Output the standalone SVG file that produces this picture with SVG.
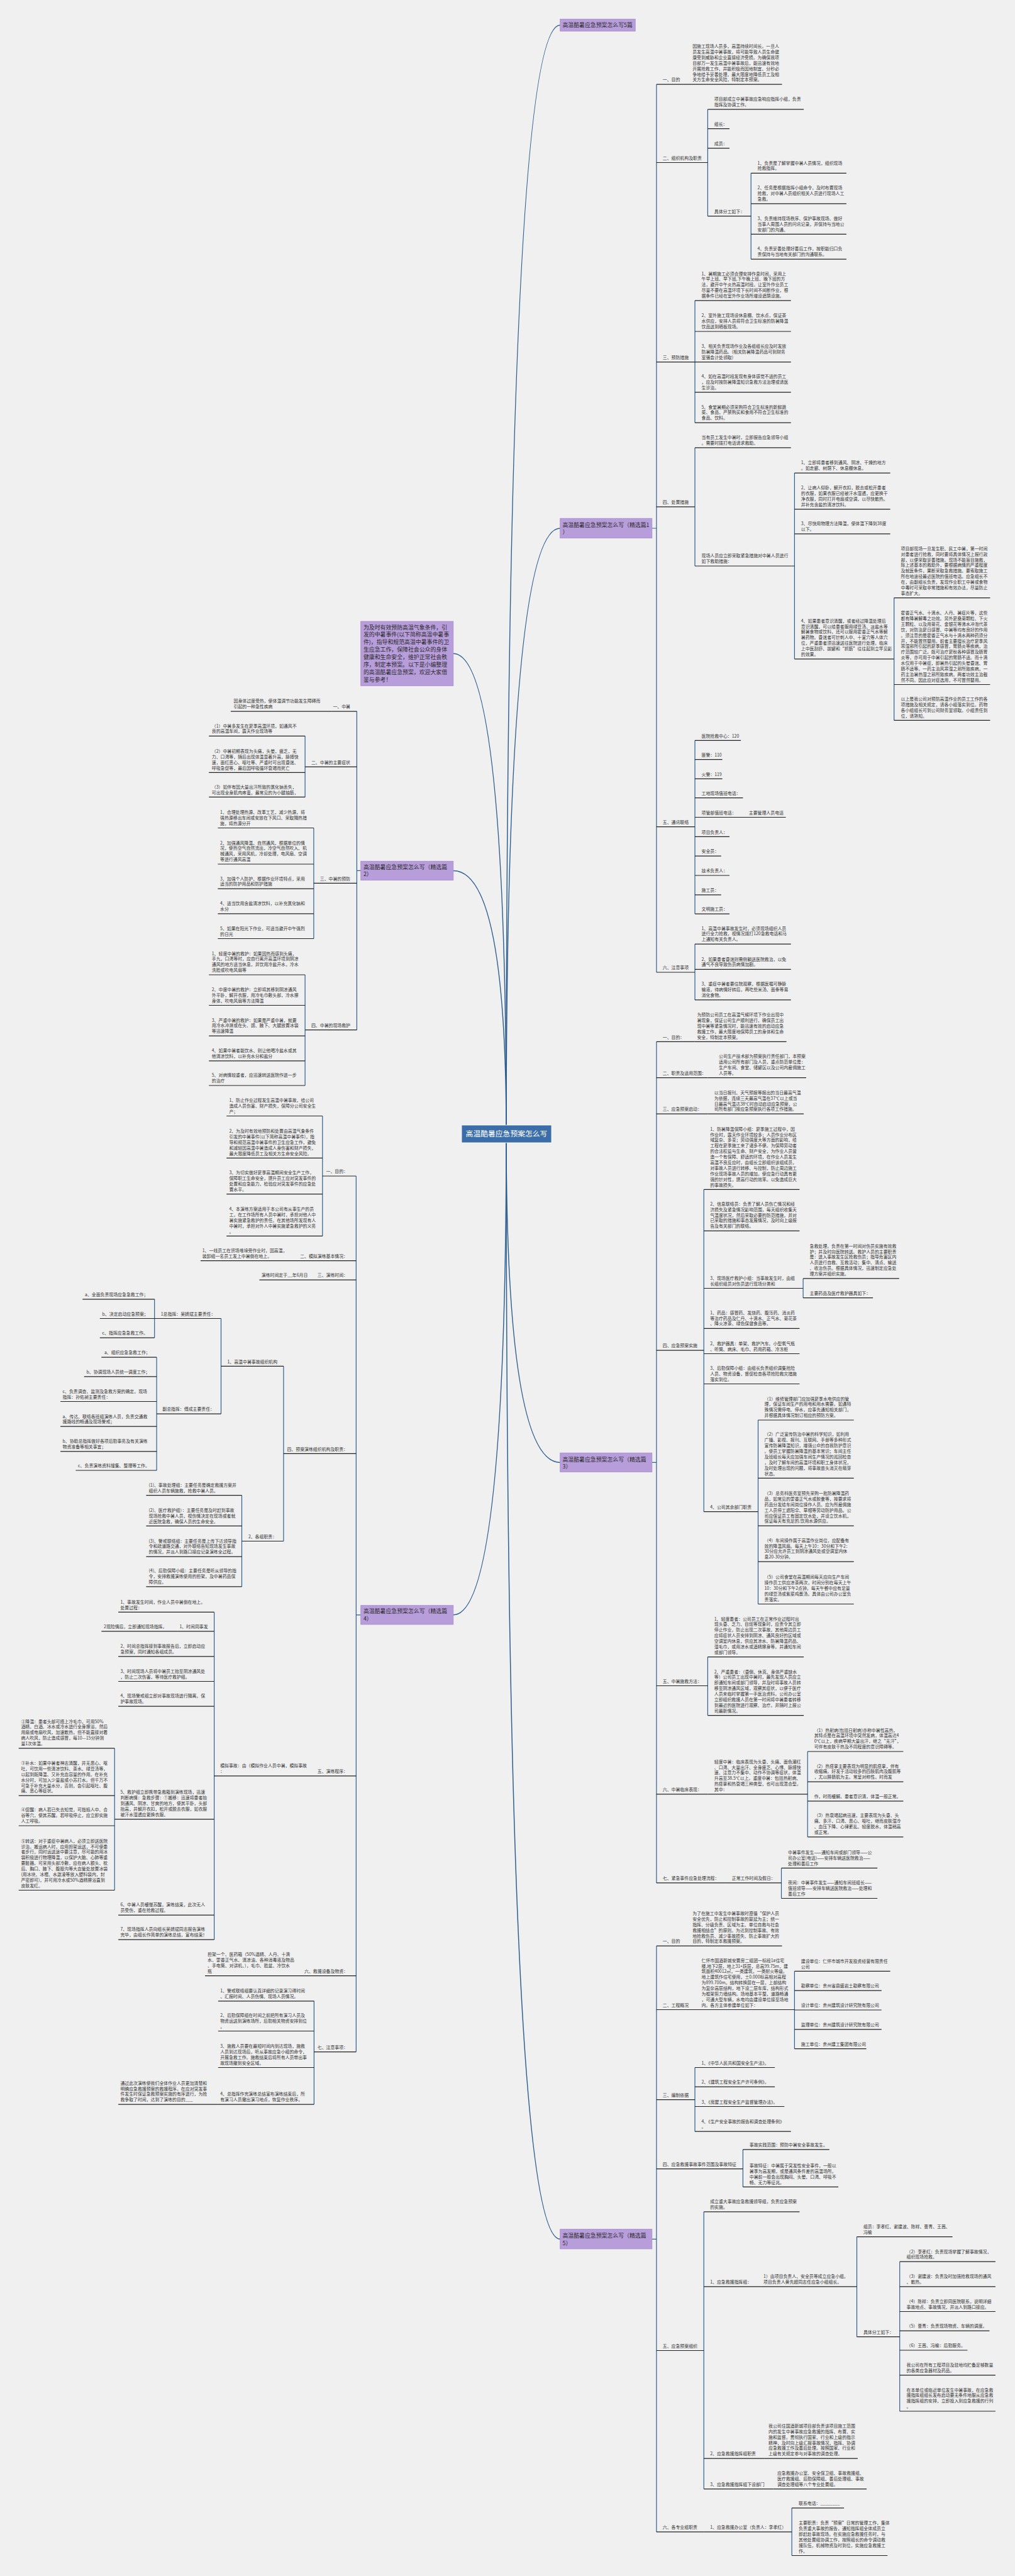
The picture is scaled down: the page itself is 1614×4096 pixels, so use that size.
<svg xmlns="http://www.w3.org/2000/svg" width="1614" height="4096" viewBox="0 0 1614 4096">
<style>
.t{font-family:"Noto Sans CJK SC","Noto Sans",sans-serif;font-size:6.9px;fill:#333}
.e{text-anchor:end}
.u{stroke:#222;stroke-width:1.2;fill:none}
.c{stroke:#2f5f8f;stroke-width:1.2;fill:none}
.cv{stroke:#2f5f8f;stroke-width:1.5;fill:none}
.p{fill:#b89ddb;stroke:#a68bd1;stroke-width:0.8}
.pt{font-family:"Noto Sans CJK SC","Noto Sans",sans-serif;font-size:8.9px;fill:#2a2a2a}
.ct{font-family:"Noto Sans CJK SC","Noto Sans",sans-serif;font-size:11.8px;fill:#fff;text-anchor:middle}
</style>
<rect width="1614" height="4096" fill="#f0f0f0"/>
<g id="connectors">
<path class="cv" d="M805 1803Q805 39.9 890.7 39.9"/>
<path class="cv" d="M805 1803Q805 840 890.7 840"/>
<path class="cv" d="M805 1803Q805 1039.2 720.8 1039.2"/>
<path class="cv" d="M805 1803Q805 1384.4 720.8 1384.4"/>
<path class="cv" d="M805 1803Q805 2325.4 890.7 2325.4"/>
<path class="cv" d="M805 1803Q805 2567.8 720.8 2567.8"/>
<path class="cv" d="M805 1803Q805 3560.3 890.7 3560.3"/>
<path class="c" d="M1036.8 840H1043.9M1043.9 134.2V1546"/>
<path class="c" d="M1036.8 2325.4H1043.9M1043.9 1656.3V2993.9"/>
<path class="c" d="M1036.8 3560.3H1043.9M1043.9 3094.2V4025.9"/>
<path class="c" d="M573.7 1384.4H567.4M567.4 1131.1V1637.7"/>
<path class="c" d="M573.7 2567.8H566.3M566.3 1870V3262.6"/>
<path class="c" d="M1125.4 173.9V343.7M1194.2 275.3V412.1M1105 477.9V672.2M1105 711.9V900M1263.4 752.1V1047.8M1421.7 950.6V1145.4M1105 1177.3V1453.1M1105 1501.1V1589.9"/>
<path class="c" d="M1119.2 1891.3V2403.7M1277.1 2032.9V2063.7M1205.5 2258V2550.5M1125.4 2634.6V2727.6M1284.2 2785V2920.8M1242.5 2970.4V3018.5"/>
<path class="c" d="M1263.4 3134.4V3257.7M1105 3287.5V3389.2M1181.4 3417.8V3477.3M1119.2 3516.9V3957.6M1362.5 3556.6V3715.6M1430.7 3596.2V3834M1259.1 3987.8V4063.5"/>
<path class="c" d="M485.1 1170.3V1267.4M498.9 1316.5V1492.5M485.1 1550V1726"/>
<path class="c" d="M512.8 1774.5V1965.4M450.9 2172.3V2450.5M351.5 2096.5V2248.1M245.7 2065.8V2127.1M249.1 2158.2V2338M384.5 2377.7V2522.8M340.6 2563.4V3084.1M182.2 2779.9V3005.5M499.4 3181.8V3346.1"/>
</g>

<g id="center"><rect x="734" y="1789" width="143" height="28" fill="#3b6ea8" stroke="#fff" stroke-width="0.8"/><text class="ct" x="805.5" y="1807.2">高温酷暑应急预案怎么写</text></g>

<g id="top"><rect class="p" x="890.7" y="30.3" width="119.5" height="19.3"/><text class="pt" x="894.5" y="43">高温酷暑应急预案怎么写5篇</text></g>
<g id="intro"><rect class="p" x="573.7" y="988" width="147.1" height="102.4"/><text class="pt" x="577.9" y="1000.6">为及时有效预防高温气象条件，引<tspan x="577.9" dy="11.86">发的中暑事件(以下简称高温中暑事</tspan><tspan x="577.9" dy="11.86">件)，指导和规范高温中暑事件的卫</tspan><tspan x="577.9" dy="11.86">生应急工作，保障社会公众的身体</tspan><tspan x="577.9" dy="11.86">健康和生命安全，维护正常社会秩</tspan><tspan x="577.9" dy="11.86">序，制定本预案。以下是小编整理</tspan><tspan x="577.9" dy="11.86">的高温酷暑应急预案，欢迎大家借</tspan><tspan x="577.9" dy="11.86">鉴与参考！</tspan></text></g>
<g id="p1"><rect class="p" x="890.7" y="824.2" width="146.1" height="31.4"/><text class="pt" x="894.5" y="837.9">高温酷暑应急预案怎么写（精选篇1<tspan x="894.5" dy="11.5">）</tspan></text></g>
<g id="p3"><rect class="p" x="890.7" y="2310.2" width="146.1" height="30.3"/><text class="pt" x="894.5" y="2323.9">高温酷暑应急预案怎么写（精选篇<tspan x="894.5" dy="11.5">3）</tspan></text></g>
<g id="p5"><rect class="p" x="890.7" y="3544.6" width="146.1" height="31.3"/><text class="pt" x="894.5" y="3558.3">高温酷暑应急预案怎么写（精选篇<tspan x="894.5" dy="11.5">5）</tspan></text></g>
<g id="p2"><rect class="p" x="573.7" y="1369.3" width="147.1" height="30.3"/><text class="pt" x="577.9" y="1381.9">高温酷暑应急预案怎么写（精选篇<tspan x="577.9" dy="11.5">2）</tspan></text></g>
<g id="p4"><rect class="p" x="573.7" y="2552.7" width="147.1" height="30.3"/><text class="pt" x="577.9" y="2565.3">高温酷暑应急预案怎么写（精选篇<tspan x="577.9" dy="11.5">4）</tspan></text></g>

<!-- Section 1 -->
<g id="r1-1"><text class="t" x="1053.8" y="129.4">一、目的</text><path class="u" d="M1043.9 134.2H1097"/></g>
<g id="r1-1a"><text class="t" x="1101.2" y="76.1">因施工现场人员多，高温持续时间长。一旦人<tspan x="1101.2" dy="8.88">员发生高温中暑事故，将可能导致人员生命健</tspan><tspan x="1101.2" dy="8.88">康受到威胁和企业直接经济受损。为确保我项</tspan><tspan x="1101.2" dy="8.88">目部万一发生高温中暑事故后，能迅速有效地</tspan><tspan x="1101.2" dy="8.88">开展抢救工作，并能积极而因地制宜、分秒必</tspan><tspan x="1101.2" dy="8.88">争地给予妥善处理，最大限度地降低员工及相</tspan><tspan x="1101.2" dy="8.88">关方生命安全风险，特制定本预案。</tspan></text><path class="u" d="M1097 134.2H1243.5"/></g>
<g id="r1-2"><text class="t" x="1053.8" y="253.7">二、组织机构及职责</text><path class="u" d="M1043.9 258.5H1125.4"/></g>
<g id="r1-2a"><text class="t" x="1135.8" y="160.2">项目部成立中暑事故应急响应指挥小组，负责<tspan x="1135.8" dy="8.88">指挥及协调工作。</tspan></text><path class="u" d="M1125.4 173.9H1278.1"/></g>
<g id="r1-2b"><text class="t" x="1135.8" y="199.9">组长：</text><path class="u" d="M1125.4 204.7H1160"/></g>
<g id="r1-2c"><text class="t" x="1135.8" y="230.8">成员：</text><path class="u" d="M1125.4 235.6H1160"/></g>
<g id="r1-2d"><text class="t" x="1135.8" y="338.9">具体分工如下：</text><path class="u" d="M1125.4 343.7H1194.2"/></g>
<g id="r1-2d1"><text class="t" x="1204.6" y="261.6">1、负责是了解掌握中暑人员情况，组织现场<tspan x="1204.6" dy="8.88">抢救指挥。</tspan></text><path class="u" d="M1194.2 275.3H1345.9"/></g>
<g id="r1-2d2"><text class="t" x="1204.6" y="301.2">2、任务是根据指挥小组命令，及时布置现场<tspan x="1204.6" dy="8.88">抢救，对中暑人员组织相关人员进行现场人工</tspan><tspan x="1204.6" dy="8.88">急救。</tspan></text><path class="u" d="M1194.2 323.8H1345.9"/></g>
<g id="r1-2d3"><text class="t" x="1204.6" y="349.8">3、负责维持现场秩序、保护事故现场、做好<tspan x="1204.6" dy="8.88">当事人周围人员的问讯记录，并保持与当地公</tspan><tspan x="1204.6" dy="8.88">安部门的沟通。</tspan></text><path class="u" d="M1194.2 372.4H1345.9"/></g>
<g id="r1-2d4"><text class="t" x="1204.6" y="398.4">4、负责妥善处理好善后工作，按职能归口负<tspan x="1204.6" dy="8.88">责保持与当地有关部门的沟通联系。</tspan></text><path class="u" d="M1194.2 412.1H1345.9"/></g>
<g id="r1-3"><text class="t" x="1053.8" y="570.8">三、预防措施</text><path class="u" d="M1043.9 575.6H1105"/></g>
<g id="r1-3a"><text class="t" x="1115.5" y="437.6">1、暑期施工必须合理安排作息时间，采用上<tspan x="1115.5" dy="8.88">午早上班、早下班,下午晚上班、晚下班的方</tspan><tspan x="1115.5" dy="8.88">法，避开中午炎热高温时段。让室外作业员工</tspan><tspan x="1115.5" dy="8.88">尽量不要在高温环境下长时间不间断作业，根</tspan><tspan x="1115.5" dy="8.88">据条件已经在室外作业场所增设遮荫设施。</tspan></text><path class="u" d="M1105 477.9H1257.7"/></g>
<g id="r1-3b"><text class="t" x="1115.5" y="504.4">2、室外施工现场设休息棚、饮水点，保证茶<tspan x="1115.5" dy="8.88">水供应，安排人员将符合卫生标准的防暑降温</tspan><tspan x="1115.5" dy="8.88">饮品送到晒板现场。</tspan></text><path class="u" d="M1105 527H1257.7"/></g>
<g id="r1-3c"><text class="t" x="1115.5" y="553">3、相关负责现场作业及各组组长应及时发放<tspan x="1115.5" dy="8.88">防暑降温药品。(相关防暑降温药品可到财务</tspan><tspan x="1115.5" dy="8.88">室骆会计处领取)</tspan></text><path class="u" d="M1105 575.6H1257.7"/></g>
<g id="r1-3d"><text class="t" x="1115.5" y="601">4、如在高温时段发现有身体感觉不适的员工<tspan x="1115.5" dy="8.88">，应及时按防暑降温知识急救方法治理或请医</tspan><tspan x="1115.5" dy="8.88">生诊治。</tspan></text><path class="u" d="M1105 623.6H1257.7"/></g>
<g id="r1-3e"><text class="t" x="1115.5" y="649.6">5、食堂暑期必须采购符合卫生标准的新鲜蔬<tspan x="1115.5" dy="8.88">菜、食品，严禁购买和食用不符合卫生标准的</tspan><tspan x="1115.5" dy="8.88">食品、饮料。</tspan></text><path class="u" d="M1105 672.2H1257.7"/></g>
<g id="r1-4"><text class="t" x="1053.8" y="801.1">四、处置措施</text><path class="u" d="M1043.9 805.9H1105"/></g>
<g id="r1-4a"><text class="t" x="1115.5" y="698.2">当有员工发生中暑时，立即报告应急领导小组<tspan x="1115.5" dy="8.88">。需要时拨打电话请求救助。</tspan></text><path class="u" d="M1105 711.9H1257.7"/></g>
<g id="r1-4b"><text class="t" x="1115.5" y="886.3">现场人员应立即采取紧急措施对中暑人员进行<tspan x="1115.5" dy="8.88">如下救助措施：</tspan></text><path class="u" d="M1105 900H1263.4"/></g>
<g id="r1-4b1"><text class="t" x="1273.8" y="738.4">1、立即将患者移到通风、阴凉、干燥的地方<tspan x="1273.8" dy="8.88">。如走廊、树荫下、休息棚休息。</tspan></text><path class="u" d="M1263.4 752.1H1415.6"/></g>
<g id="r1-4b2"><text class="t" x="1273.8" y="778.2">2、让病人仰卧，解开衣扣，脱去或松开患者<tspan x="1273.8" dy="8.88">的衣服，如果衣服已经被汗水湿透，应更换干</tspan><tspan x="1273.8" dy="8.88">净衣服，同时打开电扇或空调，以尽快散热。</tspan><tspan x="1273.8" dy="8.88">并补充含盐的清凉饮料。</tspan></text><path class="u" d="M1263.4 809.6H1415.6"/></g>
<g id="r1-4b3"><text class="t" x="1273.8" y="835.1">3、尽快用物理方法降温，使体温下降到38度<tspan x="1273.8" dy="8.88">以下。</tspan></text><path class="u" d="M1263.4 848.8H1415.6"/></g>
<g id="r1-4b4"><text class="t" x="1273.8" y="989.7">4、如果患者意识清醒，或者经过降温处理后<tspan x="1273.8" dy="8.88">意识清醒，可以给患者服用绿豆汤、淡盐水等</tspan><tspan x="1273.8" dy="8.88">解暑食物或饮料，还可以服用霍香正气水等解</tspan><tspan x="1273.8" dy="8.88">暑药物。昏迷者可针刺人中、十宣穴等人体穴</tspan><tspan x="1273.8" dy="8.88">位，严重患者须迅速送往医院进行处理。临床</tspan><tspan x="1273.8" dy="8.88">上中医刮痧、拔罐和“抓筋”往往起到立竿见影</tspan><tspan x="1273.8" dy="8.88">的效果。</tspan></text><path class="u" d="M1263.4 1047.8H1421.7"/></g>
<g id="r1-4b4a"><text class="t" x="1432.6" y="874.8">项目部现场一旦发生职、民工中暑，第一时间<tspan x="1432.6" dy="8.88">对患者进行抢救，同时要将具体情况上报行政</tspan><tspan x="1432.6" dy="8.88">部，以便采取妥善措施。现场不能盲目施救，</tspan><tspan x="1432.6" dy="8.88">除上述基本的救助外，要根据病情的严重程度</tspan><tspan x="1432.6" dy="8.88">及就医条件，果断采取急救措施。要索取施工</tspan><tspan x="1432.6" dy="8.88">所在地途径最近医院的值班电话。应急组长不</tspan><tspan x="1432.6" dy="8.88">在，由副组长负责，发现作业职工中暑或食物</tspan><tspan x="1432.6" dy="8.88">中毒时可采取非常措施和有效办法，尽量防止</tspan><tspan x="1432.6" dy="8.88">事态扩大。</tspan></text><path class="u" d="M1421.7 950.6H1574.4"/></g>
<g id="r1-4b4b"><text class="t" x="1432.6" y="977.1">霍香正气水、十滴水、人丹、暑症片等，这些<tspan x="1432.6" dy="8.88">都有降暑解毒之功效。另外夏桑菊颗粒、下火</tspan><tspan x="1432.6" dy="8.88">王颗粒、以及用菊花、金银花等沸水冲泡代茶</tspan><tspan x="1432.6" dy="8.88">饮，对防治夏日感冒、中暑等均有良好的作用</tspan><tspan x="1432.6" dy="8.88">。须注意的是霍香正气水与十滴水两种药须分</tspan><tspan x="1432.6" dy="8.88">开，不能冒然替用。前者主要擅长治疗夏季风</tspan><tspan x="1432.6" dy="8.88">寒湿邪所引起的夏季感冒，胃肠炎等疾病，治</tspan><tspan x="1432.6" dy="8.88">疗范围较广泛。既可治疗夏秋各种感冒及肠胃</tspan><tspan x="1432.6" dy="8.88">炎等，亦可用于中暑引起的胃肠不适。而十滴</tspan><tspan x="1432.6" dy="8.88">水仅用于中暑症，即暑热引起的头晕昏迷、胃</tspan><tspan x="1432.6" dy="8.88">肠不适等。一药主治风寒湿之邪所致疾病，一</tspan><tspan x="1432.6" dy="8.88">药主治暑热湿之邪所致疾病，两者功效主治截</tspan><tspan x="1432.6" dy="8.88">然不同。因此应对症选用，不可冒然替用。</tspan></text><path class="u" d="M1421.7 1088.5H1574.4"/></g>
<g id="r1-4b4c"><text class="t" x="1432.6" y="1114">以上是我公司对预防高温作业的员工工作的各<tspan x="1432.6" dy="8.88">项措施及相关规定，请各小组落实到位。药物</tspan><tspan x="1432.6" dy="8.88">各小组组长可到公司财务室领取。小组责任到</tspan><tspan x="1432.6" dy="8.88">位，请熟知。</tspan></text><path class="u" d="M1421.7 1145.4H1574.4"/></g>
<g id="r1-5"><text class="t" x="1053.8" y="1309.9">五、通讯联络</text><path class="u" d="M1043.9 1314.7H1105"/></g>
<g id="r1-5a"><text class="t" x="1115.5" y="1172.5">医院抢救中心：120</text><path class="u" d="M1105 1177.3H1178"/></g>
<g id="r1-5b"><text class="t" x="1115.5" y="1202.8">匪警：110</text><path class="u" d="M1105 1207.6H1148.6"/></g>
<g id="r1-5c"><text class="t" x="1115.5" y="1233.6">火警：119</text><path class="u" d="M1105 1238.4H1148.6"/></g>
<g id="r1-5d"><text class="t" x="1115.5" y="1263.9">工地现场值班电话：</text><path class="u" d="M1105 1268.7H1181.4"/></g>
<g id="r1-5e"><text class="t" x="1115.5" y="1294.7">项管部值班电话：</text><path class="u" d="M1105 1299.5H1188"/></g>
<g id="r1-5e1"><text class="t" x="1190.8" y="1294.7">主要管理人员电话</text><path class="u" d="M1188 1299.5H1249.6"/></g>
<g id="r1-5f"><text class="t" x="1115.5" y="1325.5">项目负责人：</text><path class="u" d="M1105 1330.3H1160"/></g>
<g id="r1-5g"><text class="t" x="1115.5" y="1356.4">安全员：</text><path class="u" d="M1105 1361.2H1146.7"/></g>
<g id="r1-5h"><text class="t" x="1115.5" y="1387.2">技术负责人：</text><path class="u" d="M1105 1392H1160"/></g>
<g id="r1-5i"><text class="t" x="1115.5" y="1418">施工员：</text><path class="u" d="M1105 1422.8H1146.7"/></g>
<g id="r1-5j"><text class="t" x="1115.5" y="1448.3">文明施工员：</text><path class="u" d="M1105 1453.1H1160"/></g>
<g id="r1-6"><text class="t" x="1053.8" y="1541.2">六、注意事项</text><path class="u" d="M1043.9 1546H1105"/></g>
<g id="r1-6a"><text class="t" x="1115.5" y="1478.5">1、高温中暑事故发生时，必须现场组织人员<tspan x="1115.5" dy="8.88">进行全力抢救，视情况拨打120急救电话和马</tspan><tspan x="1115.5" dy="8.88">上通知有关负责人。</tspan></text><path class="u" d="M1105 1501.1H1257.7"/></g>
<g id="r1-6b"><text class="t" x="1115.5" y="1527.6">2、如果患者昏迷则需侧躺送医院救治，以免<tspan x="1115.5" dy="8.88">通气不良导致伤员病情加剧。</tspan></text><path class="u" d="M1105 1541.3H1257.7"/></g>
<g id="r1-6c"><text class="t" x="1115.5" y="1567.3">3、重症中暑者要住院观察，根据医嘱可静脉<tspan x="1115.5" dy="8.88">输液，待病情好转后，再吃些米汤、面条等易</tspan><tspan x="1115.5" dy="8.88">消化食物。</tspan></text><path class="u" d="M1105 1589.9H1257.7"/></g>

<!-- Section 3 -->
<g id="r3-1"><text class="t" x="1053.8" y="1651.5">一、目的：</text><path class="u" d="M1043.9 1656.3H1104.8"/></g>
<g id="r3-1a"><text class="t" x="1108.4" y="1616">为预防公司员工在高温气候环境下作业出现中<tspan x="1108.4" dy="8.88">暑现象，保证公司生产顺利进行，确保员工出</tspan><tspan x="1108.4" dy="8.88">现中暑等紧急情况时，能迅速有效的启动应急</tspan><tspan x="1108.4" dy="8.88">救援工作，最大限度地保障员工的身体和生命</tspan><tspan x="1108.4" dy="8.88">安全，特制定本预案。</tspan></text><path class="u" d="M1104.8 1656.3H1250.6"/></g>
<g id="r3-2"><text class="t" x="1053.8" y="1708.9">二、职责及适用范围：</text><path class="u" d="M1043.9 1713.7H1125.4"/></g>
<g id="r3-2a"><text class="t" x="1143" y="1682.3">公司生产技术部为预案执行责任部门，本预案<tspan x="1143" dy="8.88">适用公司所有部门及人员，重点防范单位是：</tspan><tspan x="1143" dy="8.88">生产车间、食堂、储罐区以及公司内雇佣施工</tspan><tspan x="1143" dy="8.88">人员等。</tspan></text><path class="u" d="M1125.4 1713.7H1281.9"/></g>
<g id="r3-3"><text class="t" x="1053.8" y="1766.4">三、应急预案启动：</text><path class="u" d="M1043.9 1771.2H1125.4"/></g>
<g id="r3-3a"><text class="t" x="1135.8" y="1739.8">以当日报刊、天气预报等报出的当日最高气温<tspan x="1135.8" dy="8.88">为依据，连续三天最高气温在37℃以上或当</tspan><tspan x="1135.8" dy="8.88">日最高气温达38℃时自动启动应急预案，公</tspan><tspan x="1135.8" dy="8.88">司所有部门按应急预案执行各项工作措施。</tspan></text><path class="u" d="M1125.4 1771.2H1278.1"/></g>
<g id="r3-4"><text class="t" x="1053.8" y="2142.4">四、应急预案实施</text><path class="u" d="M1043.9 2147.2H1119.2"/></g>
<g id="r3-4a"><text class="t" x="1129.2" y="1797.7">1、防暑降温保障小组：夏季施工过程中，因<tspan x="1129.2" dy="8.88">作业时，露天作业环境较多；人员作业分布区</tspan><tspan x="1129.2" dy="8.88">域复杂、多变；劳动强度大等方面的影响，给</tspan><tspan x="1129.2" dy="8.88">工程在夏季施工来了诸多不便。为保障劳动者</tspan><tspan x="1129.2" dy="8.88">的合法权益与生命、财产安全，为作业人员营</tspan><tspan x="1129.2" dy="8.88">造一个有保障、舒适的环境，在作业人员发生</tspan><tspan x="1129.2" dy="8.88">高温不良反应时，由组长立即组织该组成员，</tspan><tspan x="1129.2" dy="8.88">对事故人员进行转移、与控制，防止周边施工</tspan><tspan x="1129.2" dy="8.88">作业现场事故人员的增加。使应急行动具有更</tspan><tspan x="1129.2" dy="8.88">强的针对性，提高行动的效率。以免造成巨大</tspan><tspan x="1129.2" dy="8.88">的事故损失。</tspan></text><path class="u" d="M1119.2 1891.3H1271.4"/></g>
<g id="r3-4b"><text class="t" x="1129.2" y="1916.8">2、信息联络员：负责了解人员伤亡情况和经<tspan x="1129.2" dy="8.88">济损失及紧急情况影响范围，每天组织收集天</tspan><tspan x="1129.2" dy="8.88">气温度状况，然后采取必要的防范措施，并对</tspan><tspan x="1129.2" dy="8.88">已采取的措施和事态发展情况，及时向上级报</tspan><tspan x="1129.2" dy="8.88">告及有关部门的联络。</tspan></text><path class="u" d="M1119.2 1957.1H1271.4"/></g>
<g id="r3-4c"><text class="t" x="1129.2" y="2034.8">3、现场医疗救护小组：当事故发生时，由组<tspan x="1129.2" dy="8.88">长组织组员对伤员进行现场分类和</tspan></text><path class="u" d="M1119.2 2048.5H1277.1"/></g>
<g id="r3-4c1"><text class="t" x="1287.6" y="1983.7">急救处理。负责在第一时间对伤员实施有效救<tspan x="1287.6" dy="8.88">护；并及时向医院转送。救护人员的主要职责</tspan><tspan x="1287.6" dy="8.88">是：进入事故发生区抢救伤员；指导危害区内</tspan><tspan x="1287.6" dy="8.88">人员进行自救、互救活动；集中、清点、输送</tspan><tspan x="1287.6" dy="8.88">、收治伤员。根据具体情况，迅速制定应急处</tspan><tspan x="1287.6" dy="8.88">理方案并组织实施。</tspan></text><path class="u" d="M1277.1 2032.9H1429.8"/></g>
<g id="r3-4c2"><text class="t" x="1287.6" y="2058.9">主要药品及医疗救护器具如下：</text><path class="u" d="M1277.1 2063.7H1388.1"/></g>
<g id="r3-4d"><text class="t" x="1129.2" y="2089.7">1、药品：感冒药、发烧药、腹泻药、消炎药<tspan x="1129.2" dy="8.88">等治疗药品及仁丹、十滴水、正气水、菊花茶</tspan><tspan x="1129.2" dy="8.88">、降火凉茶、绿色保健食品等。</tspan></text><path class="u" d="M1119.2 2112.3H1271.4"/></g>
<g id="r3-4e"><text class="t" x="1129.2" y="2138.8">2、救护器具：单架、救护汽车、小型氧气瓶<tspan x="1129.2" dy="8.88">、听筒、病床、毛巾、药用药箱、冷冻柜</tspan></text><path class="u" d="M1119.2 2152.5H1271.4"/></g>
<g id="r3-4f"><text class="t" x="1129.2" y="2177.9">3、后勤保障小组：由组长负责组织调集抢险<tspan x="1129.2" dy="8.88">人员、物资设备，督促检查各项抢险救灾措施</tspan><tspan x="1129.2" dy="8.88">落实到位。</tspan></text><path class="u" d="M1119.2 2200.5H1271.4"/></g>
<g id="r3-4g"><text class="t" x="1129.2" y="2398.9">4、公司其余部门职责</text><path class="u" d="M1119.2 2403.7H1205.5"/></g>
<g id="r3-4g1"><text class="t" x="1215.5" y="2226.6">（1）维修管理部门应加强夏季水电供应的管<tspan x="1215.5" dy="8.88">理，保证车间生产的用电和用水需要。如遇特</tspan><tspan x="1215.5" dy="8.88">殊情况需停电、停水，应事先通知相关部门，</tspan><tspan x="1215.5" dy="8.88">并根据具体情况制订相应的预防方案。</tspan></text><path class="u" d="M1205.5 2258H1357.7"/></g>
<g id="r3-4g2"><text class="t" x="1215.5" y="2283.4">（2）广泛宣传防治中暑的科学知识，如利用<tspan x="1215.5" dy="8.88">广播、影视、报刊、互联网、手册等多种形式</tspan><tspan x="1215.5" dy="8.88">宣传防暑降温知识，增强公众的自我防护意识</tspan><tspan x="1215.5" dy="8.88">。使员工掌握防暑降温的基本常识；车间主任</tspan><tspan x="1215.5" dy="8.88">及班组长每天应加强车间生产情况的巡回检查</tspan><tspan x="1215.5" dy="8.88">，及时了解车间的高温环境和职工身体状况，</tspan><tspan x="1215.5" dy="8.88">及时处理出现的问题，将事故苗头消灭在萌芽</tspan><tspan x="1215.5" dy="8.88">状态。</tspan></text><path class="u" d="M1205.5 2350.4H1357.7"/></g>
<g id="r3-4g3"><text class="t" x="1215.5" y="2377">（3）总务科医务室预先采购一批防暑降温药<tspan x="1215.5" dy="8.88">品，如常见的藿香正气水或胶囊等，按要求将</tspan><tspan x="1215.5" dy="8.88">药品分发给车间岗位操作人员。应为所雇佣施</tspan><tspan x="1215.5" dy="8.88">工人员停工遮阳伞、草帽等劳动防护用品。公</tspan><tspan x="1215.5" dy="8.88">司应保证员工有固定饮水处，并设立饮水机，</tspan><tspan x="1215.5" dy="8.88">保证每天有充足的.饮用水源供应。</tspan></text><path class="u" d="M1205.5 2426.2H1357.7"/></g>
<g id="r3-4g4"><text class="t" x="1215.5" y="2451.7">（4）车间操作属于高温作业岗位，应配备有<tspan x="1215.5" dy="8.88">效的降温风扇。每天上午10：30分和下午2：</tspan><tspan x="1215.5" dy="8.88">30分应允许员工到阴凉通风处或空调室内休</tspan><tspan x="1215.5" dy="8.88">息20-30分钟。</tspan></text><path class="u" d="M1205.5 2483.1H1357.7"/></g>
<g id="r3-4g5"><text class="t" x="1215.5" y="2510.2">（5）公司食堂在高温期间每天应向生产车间<tspan x="1215.5" dy="8.88">操作员工供应凉茶两次，时间分别在每天上午</tspan><tspan x="1215.5" dy="8.88">10：30分和下午2点钟。每天午餐中应有足量</tspan><tspan x="1215.5" dy="8.88">的绿豆汤或紫菜鸡蛋汤。具体由公司办公室负</tspan><tspan x="1215.5" dy="8.88">责落实。</tspan></text><path class="u" d="M1205.5 2550.5H1357.7"/></g>
<g id="r3-5"><text class="t" x="1053.8" y="2675.7">五、中暑施救方法：</text><path class="u" d="M1043.9 2680.5H1125.4"/></g>
<g id="r3-5a"><text class="t" x="1135.8" y="2576.5">1、轻度患者：公司员工在正常作业过程时出<tspan x="1135.8" dy="8.88">现头昏、乏力、目炫等现象时，应责令其立即</tspan><tspan x="1135.8" dy="8.88">停止作业，防止出现二次事故，其他周边员工</tspan><tspan x="1135.8" dy="8.88">应将症状人员安排到阴凉、通风良好的区域或</tspan><tspan x="1135.8" dy="8.88">空调室内休息，供应其凉水、防暑降温药品、</tspan><tspan x="1135.8" dy="8.88">湿毛巾，或用凉水或酒精擦身等。并通知车间</tspan><tspan x="1135.8" dy="8.88">或部门领导。</tspan></text><path class="u" d="M1125.4 2634.6H1278.1"/></g>
<g id="r3-5b"><text class="t" x="1135.8" y="2660.6">2、严重患者：（昏倒、休克、身体严重缺水<tspan x="1135.8" dy="8.88">等）公司员工出现中暑时，最先发现人员应立</tspan><tspan x="1135.8" dy="8.88">即通知车间或部门领导，并及时将事故人员转</tspan><tspan x="1135.8" dy="8.88">移至阴凉通风区域，观察其症状，以便于医疗</tspan><tspan x="1135.8" dy="8.88">人员来临时掌握第一手医治资料。公司办公室</tspan><tspan x="1135.8" dy="8.88">立即组织救援人员在第一时间将中暑患者转移</tspan><tspan x="1135.8" dy="8.88">到最近的医院进行观察、治疗。并随时上报公</tspan><tspan x="1135.8" dy="8.88">司最新情况。</tspan></text><path class="u" d="M1125.4 2727.6H1278.1"/></g>
<g id="r3-6"><text class="t" x="1053.8" y="2848.1">六、中暑临床表现：</text><path class="u" d="M1043.9 2852.9H1125.4"/></g>
<g id="r3-6a"><text class="t" x="1135.8" y="2803.7">轻度中暑：临床表现为头昏、头痛、面色潮红<tspan x="1135.8" dy="8.88">、口渴、大量出汗、全身疲乏、心悸、脉搏快</tspan><tspan x="1135.8" dy="8.88">速、注意力不集中、动作不协调等症状，体温</tspan><tspan x="1135.8" dy="8.88">升高至38.5℃以上。重度中暑：包括热射病、</tspan><tspan x="1135.8" dy="8.88">热痉挛和热衰竭三种类型，也可出现混合型。</tspan><tspan x="1135.8" dy="8.88">其中：</tspan></text><path class="u" d="M1125.4 2852.9H1284.2"/></g>
<g id="r3-6a1"><text class="t" x="1294.7" y="2753.6">（1）热射病(包括日射病)亦称中暑性高热，<tspan x="1294.7" dy="8.88">其特点是在高温环境中突然发病，体温高达4</tspan><tspan x="1294.7" dy="8.88">0℃以上，疾病早期大量出汗，继之“无汗”，</tspan><tspan x="1294.7" dy="8.88">可伴有皮肤干热及不同程度的意识障碍等。</tspan></text><path class="u" d="M1284.2 2785H1436.4"/></g>
<g id="r3-6a2"><text class="t" x="1294.7" y="2810.5">（2）热痉挛主要表现为明显的肌痉挛，伴有<tspan x="1294.7" dy="8.88">收缩痛。好发于活动较多的四肢肌肉及腹肌等</tspan><tspan x="1294.7" dy="8.88">，尤以腓肠肌为主。常呈对称性。时而发</tspan></text><path class="u" d="M1284.2 2833.1H1436.4"/></g>
<g id="r3-6a3"><text class="t" x="1294.7" y="2859.1">作，时而缓解。患者意识清，体温一般正常。</text><path class="u" d="M1284.2 2863.9H1436.4"/></g>
<g id="r3-6a4"><text class="t" x="1294.7" y="2889.4">（3）热衰竭起病迅速，主要表现为头昏、头<tspan x="1294.7" dy="8.88">痛、多汗、口渴、恶心、呕吐，继而皮肤湿冷</tspan><tspan x="1294.7" dy="8.88">、血压下降、心律紊乱、轻度脱水，体温稍高</tspan><tspan x="1294.7" dy="8.88">或正常。</tspan></text><path class="u" d="M1284.2 2920.8H1436.4"/></g>
<g id="r3-7"><text class="t" x="1053.8" y="2989.1">七、紧急事件应急处理流程：</text><path class="u" d="M1043.9 2993.9H1153.9"/></g>
<g id="r3-7a"><text class="t" x="1163.8" y="2989.1">正常工作时间及假日：</text><path class="u" d="M1153.9 2993.9H1242.5"/></g>
<g id="r3-7a1"><text class="t" x="1253" y="2947.8">中暑事件发生——通知车间或部门领导——公<tspan x="1253" dy="8.88">司办公室(电话)——安排车辆送医院救治——</tspan><tspan x="1253" dy="8.88">处理和善后工作</tspan></text><path class="u" d="M1242.5 2970.4H1395.2"/></g>
<g id="r3-7a2"><text class="t" x="1253" y="2995.9">夜间：中暑事件发生——通知车间班组长——<tspan x="1253" dy="8.88">值班领导——安排车辆送医院救治——处理和</tspan><tspan x="1253" dy="8.88">善后工作</tspan></text><path class="u" d="M1242.5 3018.5H1395.2"/></g>

<!-- Section 5 -->
<g id="r5-1"><text class="t" x="1053.8" y="3089.4">一、目的</text><path class="u" d="M1043.9 3094.2H1097"/></g>
<g id="r5-1a"><text class="t" x="1101.2" y="3045">为了在施工中发生中暑事故时遵循“保护人员<tspan x="1101.2" dy="8.88">安全优先，防止和控制事故的蔓延为主；统一</tspan><tspan x="1101.2" dy="8.88">指挥、分级负责、区域为主、单位自救与社会</tspan><tspan x="1101.2" dy="8.88">救援相结合”的原则。为达到控制事故、有效</tspan><tspan x="1101.2" dy="8.88">地抢救伤员、减少事故损失、防止事故扩大的</tspan><tspan x="1101.2" dy="8.88">目的，特制定本救援预案。</tspan></text><path class="u" d="M1097 3094.2H1243.5"/></g>
<g id="r5-2"><text class="t" x="1053.8" y="3190.7">二、工程概况</text><path class="u" d="M1043.9 3195.5H1105"/></g>
<g id="r5-2a"><text class="t" x="1115.5" y="3119.7">仁怀市国酒新城安置房二组团一标段1#住宅<tspan x="1115.5" dy="8.88">楼,地下2层，地上31+跃层，总高99.75m，建</tspan><tspan x="1115.5" dy="8.88">筑面积40012㎡，一类建筑，一类耐火等级。</tspan><tspan x="1115.5" dy="8.88">地上建筑作住宅使用，±0.000标高相对高程</tspan><tspan x="1115.5" dy="8.88">为899.700m。结构转换层在一层，上部结构</tspan><tspan x="1115.5" dy="8.88">为复杂高层结构，地下设二层车库，结构形式</tspan><tspan x="1115.5" dy="8.88">为框架剪力墙结构。场地基本平整，道路畅通</tspan><tspan x="1115.5" dy="8.88">，可通大型车辆，水电均由建设单位接至场地</tspan><tspan x="1115.5" dy="8.88">内。各方主体参建单位如下：</tspan></text><path class="u" d="M1105 3195.5H1263.4"/></g>
<g id="r5-2a1"><text class="t" x="1273.8" y="3120.7">建设单位：仁怀市城市开发投资经营有限责任<tspan x="1273.8" dy="8.88">公司</tspan></text><path class="u" d="M1263.4 3134.4H1415.6"/></g>
<g id="r5-2a2"><text class="t" x="1273.8" y="3160.4">勘察单位：贵州省鼎盛岩土勘察有限公司</text><path class="u" d="M1263.4 3165.2H1401.8"/></g>
<g id="r5-2a3"><text class="t" x="1273.8" y="3191.2">设计单位：贵州建筑设计研究院有限公司</text><path class="u" d="M1263.4 3196H1401.8"/></g>
<g id="r5-2a4"><text class="t" x="1273.8" y="3222.1">监理单位：贵州建筑设计研究院有限公司</text><path class="u" d="M1263.4 3226.9H1401.8"/></g>
<g id="r5-2a5"><text class="t" x="1273.8" y="3252.9">施工单位：贵州建工集团有限公司</text><path class="u" d="M1263.4 3257.7H1377.6"/></g>
<g id="r5-3"><text class="t" x="1053.8" y="3333.8">三、编制依据</text><path class="u" d="M1043.9 3338.6H1105"/></g>
<g id="r5-3a"><text class="t" x="1115.5" y="3282.7">1、《中华人民共和国安全生产法》。</text><path class="u" d="M1105 3287.5H1232.1"/></g>
<g id="r5-3b"><text class="t" x="1115.5" y="3313.4">2、《建筑工程安全生产许可条例》。</text><path class="u" d="M1105 3318.2H1232.1"/></g>
<g id="r5-3c"><text class="t" x="1115.5" y="3344.7">3、《房屋工程安全生产监督管理办法》。</text><path class="u" d="M1105 3349.5H1247.3"/></g>
<g id="r5-3d"><text class="t" x="1115.5" y="3375.5">4、《生产安全事故的报告和调查处理条例》<tspan x="1115.5" dy="8.88">。</tspan></text><path class="u" d="M1105 3389.2H1257.7"/></g>
<g id="r5-4"><text class="t" x="1053.8" y="3443.8">四、应急救援事故事件范围及事故特征</text><path class="u" d="M1043.9 3448.6H1181.4"/></g>
<g id="r5-4a"><text class="t" x="1191.8" y="3413">事故实践范围：预防中暑安全事故发生。</text><path class="u" d="M1181.4 3417.8H1318.8"/></g>
<g id="r5-4b"><text class="t" x="1191.8" y="3445.9">事故特征：中暑属于突发性安全事件，一般以<tspan x="1191.8" dy="8.88">暑季为高发期，或是通风条件差的高温场所。</tspan><tspan x="1191.8" dy="8.88">中暑前一般会出现胸闷、头晕、口渴、呼吸不</tspan><tspan x="1191.8" dy="8.88">畅、无力等征兆。</tspan></text><path class="u" d="M1181.4 3477.3H1333.1"/></g>
<g id="r5-5"><text class="t" x="1053.8" y="3732.7">五、应急预案组织</text><path class="u" d="M1043.9 3737.5H1119.2"/></g>
<g id="r5-5a"><text class="t" x="1129.2" y="3503.2">成立重大事故应急救援领导组，负责应急预案<tspan x="1129.2" dy="8.88">的实施。</tspan></text><path class="u" d="M1119.2 3516.9H1271.4"/></g>
<g id="r5-5b"><text class="t" x="1129.2" y="3631">1、应急救援指挥组：</text><path class="u" d="M1119.2 3635.8H1210.8"/></g>
<g id="r5-5b1"><text class="t" x="1214.1" y="3622.1">1）由项目负责人、安全员等成立应急小组。<tspan x="1214.1" dy="8.88">项目负责人黄先超同志任应急小组组长。</tspan></text><path class="u" d="M1210.8 3635.8H1362.5"/></g>
<g id="r5-5b1a"><text class="t" x="1372.9" y="3542.9">组员：李孝红、谢建波、陈祥、曹青、王茜、<tspan x="1372.9" dy="8.88">冯榆</tspan></text><path class="u" d="M1362.5 3556.6H1514.6"/></g>
<g id="r5-5b1b"><text class="t" x="1372.9" y="3710.8">具体分工如下：</text><path class="u" d="M1362.5 3715.6H1430.7"/></g>
<g id="r5-5b1b1"><text class="t" x="1441.6" y="3582.5">（2）李孝红：负责现场掌握了解事故情况，<tspan x="1441.6" dy="8.88">组织现场抢救。</tspan></text><path class="u" d="M1430.7 3596.2H1582.9"/></g>
<g id="r5-5b1b2"><text class="t" x="1441.6" y="3622.1">（3）谢建波：负责及时加强抢救现场的通风<tspan x="1441.6" dy="8.88">、散热。</tspan></text><path class="u" d="M1430.7 3635.8H1582.9"/></g>
<g id="r5-5b1b3"><text class="t" x="1441.6" y="3661.8">（4）陈祥：负责立即同医院联系，说明详细<tspan x="1441.6" dy="8.88">事故地点、事故情况，并派人到路口接应。</tspan></text><path class="u" d="M1430.7 3675.5H1582.9"/></g>
<g id="r5-5b1b4"><text class="t" x="1441.6" y="3701.4">（5）曹青：负责现场物资、车辆的调度。</text><path class="u" d="M1430.7 3706.2H1573.4"/></g>
<g id="r5-5b1b5"><text class="t" x="1441.6" y="3732.2">（6）王茜、冯榆：后勤服务。</text><path class="u" d="M1430.7 3737H1538.4"/></g>
<g id="r5-5b1b6"><text class="t" x="1441.6" y="3762.9">我公司在所有工程项目及驻地均贮备足够数量<tspan x="1441.6" dy="8.88">的各类应急器材及药品。</tspan></text><path class="u" d="M1430.7 3776.6H1582.9"/></g>
<g id="r5-5b1b7"><text class="t" x="1441.6" y="3802.6">在本单位或临近单位发生中暑事故，在应急救<tspan x="1441.6" dy="8.88">援指挥组组长发布启动要无条件地服从应急救</tspan><tspan x="1441.6" dy="8.88">援指挥组的安排，立即投入到应急救援的行列</tspan><tspan x="1441.6" dy="8.88">。</tspan></text><path class="u" d="M1430.7 3834H1582.9"/></g>
<g id="r5-5c"><text class="t" x="1129.2" y="3904.3">2、应急救援指挥组职责</text><path class="u" d="M1119.2 3909.1H1215.5"/></g>
<g id="r5-5c1"><text class="t" x="1222.1" y="3859.9">我公司住国酒新城项目部负责该项目施工范围<tspan x="1222.1" dy="8.88">内的发生中暑事故应急救援的指挥、布置、实</tspan><tspan x="1222.1" dy="8.88">施和监督。贯彻执行国家、行业和上级的指示</tspan><tspan x="1222.1" dy="8.88">精神，及时向上级汇报事故情况，指挥、协调</tspan><tspan x="1222.1" dy="8.88">应急救援工作及善后处理。按照国家、行业和</tspan><tspan x="1222.1" dy="8.88">上级有关规定参与对事故的调查处理。</tspan></text><path class="u" d="M1215.5 3909.1H1363.9"/></g>
<g id="r5-5d"><text class="t" x="1129.2" y="3952.8">3、应急救援指挥组下设部门</text><path class="u" d="M1119.2 3957.6H1229.7"/></g>
<g id="r5-5d1"><text class="t" x="1235.9" y="3935">应急救援办公室、安全保卫组、事故救援组、<tspan x="1235.9" dy="8.88">医疗救援组、后勤保障组、善后处理组、事故</tspan><tspan x="1235.9" dy="8.88">调查处理组等八个专业处置组。</tspan></text><path class="u" d="M1229.7 3957.6H1378.1"/></g>
<g id="r5-6"><text class="t" x="1053.8" y="4021.1">六、各专业组职责</text><path class="u" d="M1043.9 4025.9H1119.2"/></g>
<g id="r5-6a"><text class="t" x="1129.2" y="4021.1">1、应急救援办公室（负责人：李孝红）</text><path class="u" d="M1119.2 4025.9H1259.1"/></g>
<g id="r5-6a1"><text class="t" x="1270" y="3983">联系电话：________</text><path class="u" d="M1259.1 3987.8H1342.1"/></g>
<g id="r5-6a2"><text class="t" x="1270" y="4014.3">主要职责：负责“预案”日常的管理工作，集体<tspan x="1270" dy="8.88">负责重大事故的报告，通知指挥组全体成员立</tspan><tspan x="1270" dy="8.88">即赶赴事故现场。在实施应急救援任务时，与</tspan><tspan x="1270" dy="8.88">其他处置组协调工作，按照组长的命令调动救</tspan><tspan x="1270" dy="8.88">援队伍，机械物资及时到位，实施应急救援工</tspan><tspan x="1270" dy="8.88">作。</tspan></text><path class="u" d="M1259.1 4063.5H1411.3"/></g>

<!-- Left section 2 -->
<g id="l2-1"><text class="t e" x="557" y="1126.3">一、中暑</text><path class="u" d="M567.4 1131.1H527.8"/></g>
<g id="l2-1a"><text class="t" x="371.5" y="1117.4">因身体过度受热，使体温调节功能发生障碍而<tspan x="371.5" dy="8.88">引起的一种急性疾病</tspan></text><path class="u" d="M366.9 1131.1H527.8"/></g>
<g id="l2-2"><text class="t e" x="557" y="1214.6">二、中暑的主要症状</text><path class="u" d="M567.4 1219.4H485.1"/></g>
<g id="l2-2a"><text class="t" x="336.8" y="1156.6">（1）中暑多发生在夏季高温环境，如通风不<tspan x="336.8" dy="8.88">良的高温车间，露天作业现场等</tspan></text><path class="u" d="M332.2 1170.3H485.1"/></g>
<g id="l2-2b"><text class="t" x="336.8" y="1196.9">（2）中暑初期表现为头痛，头晕，疲乏，无<tspan x="336.8" dy="8.88">力、口渴等，随后出现体温显著升高，脉搏快</tspan><tspan x="336.8" dy="8.88">速，面红恶心、呕吐等、严重时可出现昏迷、</tspan><tspan x="336.8" dy="8.88">呼吸急促等，最后因呼吸循环衰竭而死亡</tspan></text><path class="u" d="M332.2 1228.3H485.1"/></g>
<g id="l2-2c"><text class="t" x="336.8" y="1253.7">（3）如伴有因大量出汗所致的氯化钠丢失，<tspan x="336.8" dy="8.88">可出现全身肌肉疼蛮，最常见的为小腿抽筋，</tspan></text><path class="u" d="M332.2 1267.4H485.1"/></g>
<g id="l2-3"><text class="t e" x="557" y="1399.5">三、中暑的预防</text><path class="u" d="M567.4 1404.3H498.9"/></g>
<g id="l2-3a"><text class="t" x="350.1" y="1293.9">1、合理处理热源、改革工艺，减少热源，将<tspan x="350.1" dy="8.88">强热源移出车间或安放在下风口、采取隔热措</tspan><tspan x="350.1" dy="8.88">施，将热源分开</tspan></text><path class="u" d="M346.4 1316.5H498.9"/></g>
<g id="l2-3b"><text class="t" x="350.1" y="1342.6">2、加强通风降温、自然通风，根据单位的情<tspan x="350.1" dy="8.88">况，使热空气自然流出，冷空气自然吹入、机</tspan><tspan x="350.1" dy="8.88">械通风，采用风机，冷却处理，电风扇、空调</tspan><tspan x="350.1" dy="8.88">等进行通风高温</tspan></text><path class="u" d="M346.4 1374H498.9"/></g>
<g id="l2-3c"><text class="t" x="350.1" y="1399.5">3、加强个人防护、根据作业环境特点，采用<tspan x="350.1" dy="8.88">适当的防护用品和防护措施</tspan></text><path class="u" d="M346.4 1413.2H498.9"/></g>
<g id="l2-3d"><text class="t" x="350.1" y="1439.1">4、适当饮用含盐清凉饮料，以补充氯化钠和<tspan x="350.1" dy="8.88">水分</tspan></text><path class="u" d="M346.4 1452.8H498.9"/></g>
<g id="l2-3e"><text class="t" x="350.1" y="1478.8">5、如果在阳光下作业，可适当避开中午强烈<tspan x="350.1" dy="8.88">的日光</tspan></text><path class="u" d="M346.4 1492.5H498.9"/></g>
<g id="l2-4"><text class="t e" x="557" y="1632.9">四、中暑的现场救护</text><path class="u" d="M567.4 1637.7H485.1"/></g>
<g id="l2-4a"><text class="t" x="336.8" y="1518.6">1、轻度中暑的救护：如果因热而感到头痛，<tspan x="336.8" dy="8.88">手九，口渴等时，应自行离开高温环境到阴凉</tspan><tspan x="336.8" dy="8.88">通风的地方适当休息，并饮用冷盐开水，冷水</tspan><tspan x="336.8" dy="8.88">洗脸或吹电风扇等</tspan></text><path class="u" d="M332.2 1550H485.1"/></g>
<g id="l2-4b"><text class="t" x="336.8" y="1575.9">2、中度中暑的救护：立即将其移到阴凉通风<tspan x="336.8" dy="8.88">外平卧，解开衣服，用冷毛巾敷头部，冷水擦</tspan><tspan x="336.8" dy="8.88">身体，吹电风扇等方法降温</tspan></text><path class="u" d="M332.2 1598.5H485.1"/></g>
<g id="l2-4c"><text class="t" x="336.8" y="1624.5">3、严重中暑的救护：如果是严重中暑，就要<tspan x="336.8" dy="8.88">用冷水冲淋或在头、颈、腋下、大腿放置冰袋</tspan><tspan x="336.8" dy="8.88">等迅速降温</tspan></text><path class="u" d="M332.2 1647.1H485.1"/></g>
<g id="l2-4d"><text class="t" x="336.8" y="1673.1">4、如果中暑者能饮水、则让他喝冷盐水或其<tspan x="336.8" dy="8.88">他清凉饮料，以补充水分和盐分</tspan></text><path class="u" d="M332.2 1686.8H485.1"/></g>
<g id="l2-4e"><text class="t" x="336.8" y="1712.3">5、对病情较重者，应迅速转送医院作进一步<tspan x="336.8" dy="8.88">的治疗</tspan></text><path class="u" d="M332.2 1726H485.1"/></g>

<!-- Left section 4 -->
<g id="l4-1"><text class="t e" x="553" y="1865.2">一、目的：</text><path class="u" d="M566.3 1870H512.8"/></g>
<g id="l4-1a"><text class="t" x="364.4" y="1751.9">1、防止作业过程发生高温中暑事故，给公司<tspan x="364.4" dy="8.88">造成人员伤害、财产损失，保障分公司安全生</tspan><tspan x="364.4" dy="8.88">产；</tspan></text><path class="u" d="M360.2 1774.5H512.8"/></g>
<g id="l4-1b"><text class="t" x="364.4" y="1801">2、为及时有效地预防和处置由高温气象条件<tspan x="364.4" dy="8.88">引发的中暑事件(以下简称高温中暑事件)，指</tspan><tspan x="364.4" dy="8.88">导和规范高温中暑事件的卫生应急工作，避免</tspan><tspan x="364.4" dy="8.88">和减轻因高温中暑造成人身伤害和财产损失，</tspan><tspan x="364.4" dy="8.88">最大限度降低员工及相关方生命安全风险。</tspan></text><path class="u" d="M360.2 1841.3H512.8"/></g>
<g id="l4-1c"><text class="t" x="364.4" y="1867.2">3、为切实做好夏季高温期间安全生产工作，<tspan x="364.4" dy="8.88">保障职工生命安全，提升员工应对突发事件的</tspan><tspan x="364.4" dy="8.88">处置和应急能力，检验应对突发事件的应急处</tspan><tspan x="364.4" dy="8.88">置水平。</tspan></text><path class="u" d="M360.2 1898.6H512.8"/></g>
<g id="l4-1d"><text class="t" x="364.4" y="1925.1">4、本演练方案适用于本公司有从事生产的员<tspan x="364.4" dy="8.88">工，在工作场所有人员中暑时，承担对他人中</tspan><tspan x="364.4" dy="8.88">暑实施紧急救护的责任。在其他场所发现有人</tspan><tspan x="364.4" dy="8.88">中暑时，承担对外人中暑实施紧急救护的义务</tspan><tspan x="364.4" dy="8.88">。</tspan></text><path class="u" d="M360.2 1965.4H512.8"/></g>
<g id="l4-2"><text class="t e" x="553" y="1999.8">二、模拟演练基本情况：</text><path class="u" d="M566.3 2004.6H478"/></g>
<g id="l4-2a"><text class="t" x="321.8" y="1990.9">1、一线员工在货场堆垛旁作业时，因高温，<tspan x="321.8" dy="8.88">装卸组一名员工发上中暑倒在地上。</tspan></text><path class="u" d="M318.9 2004.6H478"/></g>
<g id="l4-3"><text class="t e" x="553" y="2030.4">三、演练时间：</text><path class="u" d="M566.3 2035.2H505"/></g>
<g id="l4-3a"><text class="t" x="415.8" y="2030.4">演练时间定于__年6月日</text><path class="u" d="M412.5 2035.2H505"/></g>
<g id="l4-4"><text class="t e" x="553" y="2306.6">四、预案演练组织机构及职责：</text><path class="u" d="M566.3 2311.4H450.9"/></g>
<g id="l4-4a"><text class="t" x="361.5" y="2167.5">1、高温中暑事故组织机构</text><path class="u" d="M450.9 2172.3H351.5"/></g>
<g id="l4-4a1"><text class="t" x="255.8" y="2091.7">1总指挥：吴婧斌主要责任：</text><path class="u" d="M351.5 2096.5H245.7"/></g>
<g id="l4-4a1a"><text class="t" x="135" y="2061">a、全面负责现场应急急救工作；</text><path class="u" d="M131.2 2065.8H245.7"/></g>
<g id="l4-4a1b"><text class="t" x="162.6" y="2091.7">b、决定启动应急预案；</text><path class="u" d="M158.8 2096.5H245.7"/></g>
<g id="l4-4a1c"><text class="t" x="162.6" y="2122.3">c、指挥应急急救工作。</text><path class="u" d="M158.8 2127.1H245.7"/></g>
<g id="l4-4a2"><text class="t" x="258.3" y="2243.3">副总指挥：傅成主要责任：</text><path class="u" d="M351.5 2248.1H249.1"/></g>
<g id="l4-4a2a"><text class="t" x="165.9" y="2153.4">a、组织应急急救工作；</text><path class="u" d="M161.3 2158.2H249.1"/></g>
<g id="l4-4a2b"><text class="t" x="137.5" y="2184.1">b、协调现场人员统一调度工作；</text><path class="u" d="M133.7 2188.9H249.1"/></g>
<g id="l4-4a2c"><text class="t" x="99.5" y="2214.8">c、负责调查、监测及急救方案的确定。现场<tspan x="99.5" dy="8.88">指挥：孙佑昶主要责任：</tspan></text><path class="u" d="M96.1 2228.5H249.1"/></g>
<g id="l4-4a2d"><text class="t" x="99.5" y="2254.5">a、传达、联络各班组演练人员，负责交通救<tspan x="99.5" dy="8.88">援路线的畅通及现场警戒；</tspan></text><path class="u" d="M96.1 2268.2H249.1"/></g>
<g id="l4-4a2e"><text class="t" x="99.5" y="2294.2">b、协助总指挥做好各项后勤事务及有关演练<tspan x="99.5" dy="8.88">物资准备等相关事宜；</tspan></text><path class="u" d="M96.1 2307.9H249.1"/></g>
<g id="l4-4a2f"><text class="t" x="124.1" y="2333.2">c、负责演练资料搜集、整理等工作。</text><path class="u" d="M120.4 2338H249.1"/></g>
<g id="l4-4b"><text class="t" x="394.9" y="2445.7">2、各组职责：</text><path class="u" d="M450.9 2450.5H384.5"/></g>
<g id="l4-4b1"><text class="t" x="236.5" y="2364">(1)、事故处理组：主要任务是确定救援方案并<tspan x="236.5" dy="8.88">组织人员车辆施救，抢救中暑人员。</tspan></text><path class="u" d="M232.4 2377.7H384.5"/></g>
<g id="l4-4b2"><text class="t" x="236.5" y="2403.8">(2)、医疗救护组）：主要任务是及时赶到事故<tspan x="236.5" dy="8.88">现场抢救中暑人员，视伤情决定在现场或者就</tspan><tspan x="236.5" dy="8.88">近医院急救，确保人员的生命安全。</tspan></text><path class="u" d="M232.4 2426.4H384.5"/></g>
<g id="l4-4b3"><text class="t" x="236.5" y="2452.5">(3)、警戒联络组：主要任务是上传下达领导指<tspan x="236.5" dy="8.88">令和疏道路交通，对外联络告知现场发生事故</tspan><tspan x="236.5" dy="8.88">的情况，并派人到路口接应记录演练全过程。</tspan></text><path class="u" d="M232.4 2475.1H384.5"/></g>
<g id="l4-4b4"><text class="t" x="236.5" y="2500.2">(4)、后勤保障小组：主要任务是听从领导的指<tspan x="236.5" dy="8.88">令，安排救援演练使用的担架，及中暑药品保</tspan><tspan x="236.5" dy="8.88">障供应。</tspan></text><path class="u" d="M232.4 2522.8H384.5"/></g>
<g id="l4-5"><text class="t e" x="553" y="2819">五、演练程序：</text><path class="u" d="M566.3 2823.8H493.1"/></g>
<g id="l4-5a"><text class="t" x="350.2" y="2810.1">模拟事故：由（模拟作业人员中暑，模拟事故<tspan x="350.2" dy="8.88">：</tspan></text><path class="u" d="M340.6 2823.8H493.1"/></g>
<g id="l4-5a1"><text class="t" x="191.4" y="2549.7">1、事故发生时间，作业人员中暑倒在地上。<tspan x="191.4" dy="8.88">处置过程：</tspan></text><path class="u" d="M188.1 2563.4H340.6"/></g>
<g id="l4-5a2"><text class="t" x="285.4" y="2589">1、时间同事发</text><path class="u" d="M340.6 2593.8H282.9"/></g>
<g id="l4-5a2a"><text class="t" x="165.1" y="2589">2现险情后，立即通知现场指挥。</text><path class="u" d="M161.3 2593.8H282.9"/></g>
<g id="l4-5a3"><text class="t" x="191.4" y="2620.2">2、时间总指挥接到事故报告后，立即启动应<tspan x="191.4" dy="8.88">急预案，同时通知各组成员。</tspan></text><path class="u" d="M188.1 2633.9H340.6"/></g>
<g id="l4-5a4"><text class="t" x="191.4" y="2659.8">3、时间现场人员将中暑员工抬至阴凉通风处<tspan x="191.4" dy="8.88">，防止二次伤害，等待医疗救护组。</tspan></text><path class="u" d="M188.1 2673.5H340.6"/></g>
<g id="l4-5a5"><text class="t" x="191.4" y="2699.4">4、现场警戒组立即对事故现场进行隔离，保<tspan x="191.4" dy="8.88">护事故现场。</tspan></text><path class="u" d="M188.1 2713.1H340.6"/></g>
<g id="l4-5a6"><text class="t" x="191.4" y="2852.4">5、救护组立即携带急救箱到演练现场，迅速<tspan x="191.4" dy="8.88">判断病情：急救步骤：①搬移：迅速将患者抬</tspan><tspan x="191.4" dy="8.88">到通风、阴凉、甘爽的地方，使其平卧，头部</tspan><tspan x="191.4" dy="8.88">抬高，并解开衣扣，松开或脱去衣服，如衣服</tspan><tspan x="191.4" dy="8.88">被汗水湿透应更换衣服。</tspan></text><path class="u" d="M182.2 2892.7H340.6"/></g>
<g id="l4-5a6a"><text class="t" x="33.4" y="2739.6">②降温：患者头部可捂上冷毛巾，可用50%<tspan x="33.4" dy="8.88">酒精、白酒、冰水或冷水进行全身擦浴，然后</tspan><tspan x="33.4" dy="8.88">用扇或电扇吹风，加速散热，但不能直接对着</tspan><tspan x="33.4" dy="8.88">病人吹风，防止造成感冒，每10—15分钟测</tspan><tspan x="33.4" dy="8.88">量1次体温。</tspan></text><path class="u" d="M29.7 2779.9H182.2"/></g>
<g id="l4-5a6b"><text class="t" x="33.4" y="2806">③补水：如果中暑者神志清醒，并无恶心、呕<tspan x="33.4" dy="8.88">吐，可饮用一些清凉饮料、茶水、绿豆汤等，</tspan><tspan x="33.4" dy="8.88">以起到既降温、又补充血容量的作用。在补充</tspan><tspan x="33.4" dy="8.88">水分时，可加入少量盐或小苏打水。但千万不</tspan><tspan x="33.4" dy="8.88">可急于补充大量水分，否则，会引起呕吐、腹</tspan><tspan x="33.4" dy="8.88">痛、恶心等症状。</tspan></text><path class="u" d="M29.7 2855.2H182.2"/></g>
<g id="l4-5a6c"><text class="t" x="33.4" y="2880.4">④促醒：病人若已失去知觉，可指掐人中、合<tspan x="33.4" dy="8.88">谷等穴，使其苏醒。若呼吸停止，应立即实施</tspan><tspan x="33.4" dy="8.88">人工呼吸。</tspan></text><path class="u" d="M29.7 2903H182.2"/></g>
<g id="l4-5a6d"><text class="t" x="33.4" y="2929.7">⑤转送：对于重症中暑病人，必须立即送医院<tspan x="33.4" dy="8.88">诊治。搬运病人时，应用担架运送，不可使患</tspan><tspan x="33.4" dy="8.88">者步行，同时运送途中要注意，尽可能的用冰</tspan><tspan x="33.4" dy="8.88">袋积极进行物理降温，以保护大脑、心肺等重</tspan><tspan x="33.4" dy="8.88">要脏器。可采用头部冷敷，应在病人额头、枕</tspan><tspan x="33.4" dy="8.88">后、胸口、腋下、腹股沟等大血管处放置冰袋</tspan><tspan x="33.4" dy="8.88">(用冰块、冰棍、水激凌等放入塑料袋内，封</tspan><tspan x="33.4" dy="8.88">严密即可)，并可用冷水或50%酒精擦浴直到</tspan><tspan x="33.4" dy="8.88">皮肤发红。</tspan></text><path class="u" d="M29.7 3005.5H182.2"/></g>
<g id="l4-5a7"><text class="t" x="191.4" y="3031.4">6、中暑人员缓慢苏醒，演练结束，此次无人<tspan x="191.4" dy="8.88">员受伤，重在抢救过程。</tspan></text><path class="u" d="M188.1 3045.1H340.6"/></g>
<g id="l4-5a8"><text class="t" x="191.4" y="3070.4">7、现场指挥人员向组长吴婧斌同志报告演练<tspan x="191.4" dy="8.88">完毕，由组长作简单的演练总结，宣布结束！</tspan></text><path class="u" d="M188.1 3084.1H340.6"/></g>
<g id="l4-6"><text class="t e" x="553" y="3136.8">六、救援设备及物资：</text><path class="u" d="M566.3 3141.6H485"/></g>
<g id="l4-6a"><text class="t" x="330.1" y="3110.2">担架一个、医药箱（50%酒精、人丹、十滴<tspan x="330.1" dy="8.88">水、藿香正气水、清凉油、各种消毒液及物品</tspan><tspan x="330.1" dy="8.88">、手电筒、对讲机、），毛巾、脸盆、冷饮水</tspan><tspan x="330.1" dy="8.88">瓶</tspan></text><path class="u" d="M326 3141.6H485"/></g>
<g id="l4-7"><text class="t e" x="553" y="3257.8">七、注意事项：</text><path class="u" d="M566.3 3262.6H499.4"/></g>
<g id="l4-7a"><text class="t" x="350.2" y="3168.1">1、警戒联络组要认真详细的记录演习得时间<tspan x="350.2" dy="8.88">、汇报时间、人员伤情、现场人员情况。</tspan></text><path class="u" d="M346.9 3181.8H499.4"/></g>
<g id="l4-7b"><text class="t" x="350.2" y="3206.9">2、后勤保障组在时间之前把所有演习人员及<tspan x="350.2" dy="8.88">物资运送到演练场所，后勤相关物资安排到位</tspan><tspan x="350.2" dy="8.88">。</tspan></text><path class="u" d="M346.9 3229.5H499.4"/></g>
<g id="l4-7c"><text class="t" x="350.2" y="3256.1">3、施救人员要在最短时间内到达现场，施救<tspan x="350.2" dy="8.88">人员到达现场后，听从事故应急小组的命令，</tspan><tspan x="350.2" dy="8.88">开展急救工作。施救结束后将所有人员带出事</tspan><tspan x="350.2" dy="8.88">故现场撤到安全区域。</tspan></text><path class="u" d="M346.9 3287.5H499.4"/></g>
<g id="l4-7d"><text class="t" x="350.2" y="3332.4">4、总指挥作完演练总结宣布演练结束后，所<tspan x="350.2" dy="8.88">有演习人员撤出演习地点，恢复作业秩序。</tspan></text><path class="u" d="M346.9 3346.1H499.4"/></g>
<g id="l4-7d1"><text class="t" x="191.4" y="3314.7">通过此次演练使我们全体作业人员更加清楚和<tspan x="191.4" dy="8.88">明确应急救援预案的救援程序。在应对突发事</tspan><tspan x="191.4" dy="8.88">件发生时保证急救预案实施的有序进行，为抢</tspan><tspan x="191.4" dy="8.88">救争取了时间，达到了演练的目的___</tspan></text><path class="u" d="M188.1 3346.1H346.9"/></g>
</svg>
